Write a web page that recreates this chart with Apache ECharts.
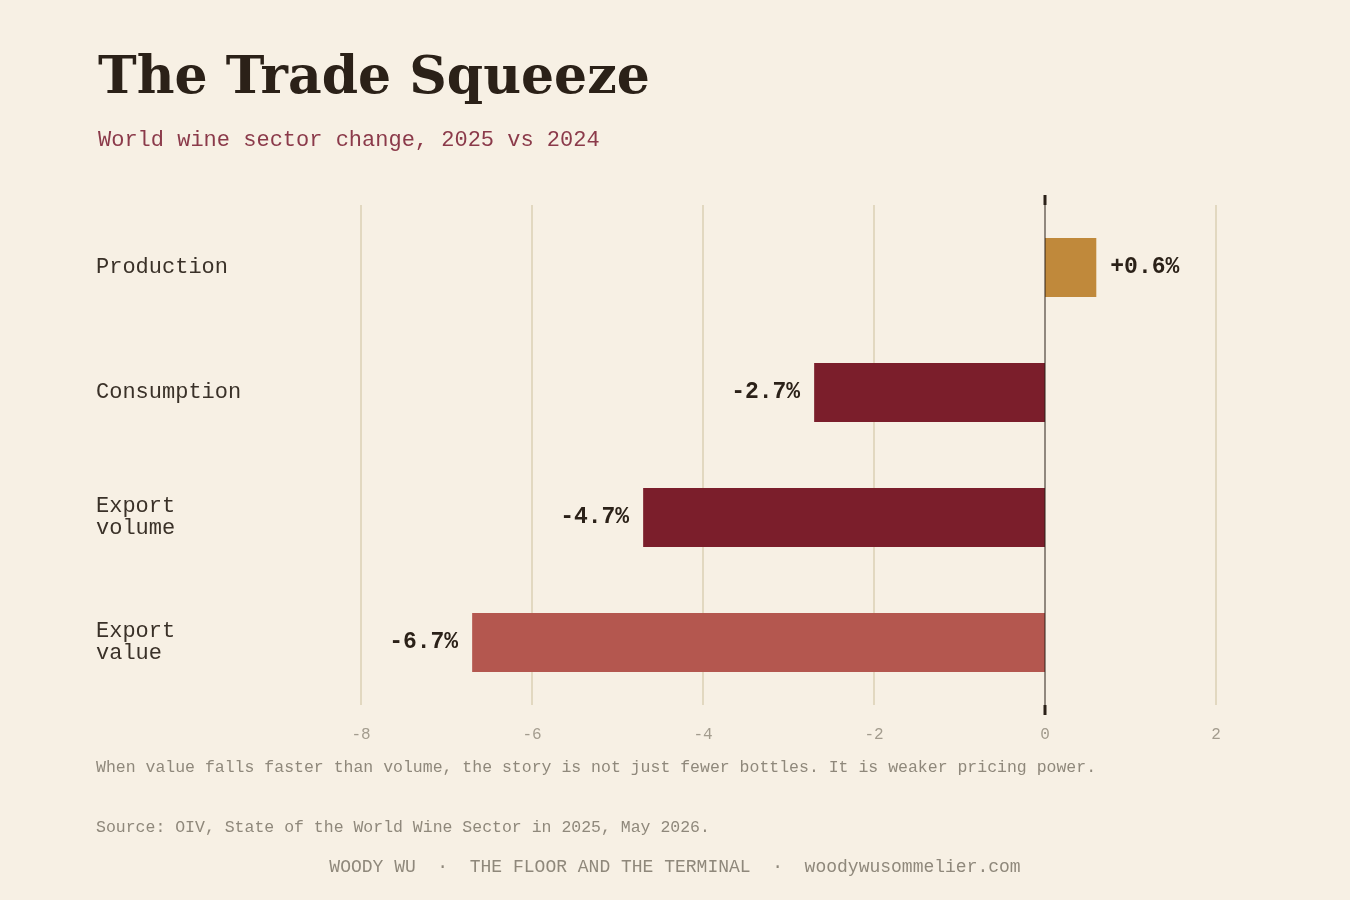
<!DOCTYPE html>
<html>
<head>
<meta charset="utf-8">
<script src="https://cdn.jsdelivr.net/npm/echarts@6/dist/echarts.min.js"></script>
<style>
html,body{margin:0;padding:0;background:#f7f0e4;}
#chart{width:1350px;height:900px;}
</style>
</head>
<body>
<div id="chart"></div>
<script>
var categories = ['Production', 'Consumption', 'Export\nvolume', 'Export\nvalue'];
var changes = [0.6, -2.7, -4.7, -6.7];
var barColors = ['#c0893b', '#7b1e2b', '#7b1e2b', '#b4574f'];
var xTicks = [-8, -6, -4, -2, 0, 2];

var mono = '"Liberation Mono", "DejaVu Sans Mono", monospace';
var myChart = echarts.init(document.getElementById('chart'));

var option = {
    backgroundColor: '#f7f0e4',
    title: {
        text: 'The Trade Squeeze',
        subtext: 'World wine sector change, 2025 vs 2024',
        left: 93,
        top: 48,
        itemGap: 24,
        textStyle: { fontFamily: '"DejaVu Serif", Georgia, serif', fontWeight: 'bold', fontSize: 52, color: '#2b2118' },
        subtextStyle: { fontFamily: mono, fontSize: 22, color: '#8b3a4a' }
    },
    grid: { left: 361, right: 134, top: 205, bottom: 195 },
    xAxis: {
        type: 'value',
        min: xTicks[0],
        max: xTicks[xTicks.length - 1],
        interval: 2,
        axisLine: { show: false },
        axisTick: { show: false },
        splitLine: { show: false },
        axisLabel: { fontFamily: mono, fontSize: 16, color: '#a39c8e', margin: 22 }
    },
    yAxis: {
        type: 'category',
        inverse: true,
        data: categories,
        axisLine: { show: false },
        axisTick: { show: false },
        axisLabel: {
            align: 'left',
            margin: 265,
            fontFamily: mono,
            fontSize: 22,
            lineHeight: 22,
            color: '#3a3128',
            verticalAlign: 'middle',
            padding: [0, 0, 14, 0]
        }
    },
    series: [{
        type: 'bar',
        barWidth: 59,
        z: 3,
        data: changes.map(function (v, i) {
            return {
                value: v,
                itemStyle: { color: barColors[i] },
                label: { position: v >= 0 ? 'right' : 'left' }
            };
        }),
        label: {
            show: true,
            distance: 14,
            fontFamily: mono,
            fontWeight: 'bold',
            fontSize: 23,
            color: '#2b2118',
            formatter: function (p) { return (p.value > 0 ? '+' : '') + p.value.toFixed(1) + '%'; }
        }
    }],
    graphic: []
};
myChart.setOption(option);

// grid lines and zero line extending slightly beyond the plot, placed via the axis scale
var lines = [];
xTicks.forEach(function (t) {
    var x = myChart.convertToPixel({ xAxisIndex: 0 }, t);
    if (t === 0) {
        lines.push({ type: 'line', z: 10, shape: { x1: x, y1: 195, x2: x, y2: 715 }, style: { stroke: '#2b2118', lineWidth: 1 } });
        lines.push({ type: 'rect', z: 10, shape: { x: x - 1.5, y: 195, width: 3, height: 10 }, style: { fill: '#2b2118' } });
        lines.push({ type: 'rect', z: 10, shape: { x: x - 1.5, y: 705, width: 3, height: 10 }, style: { fill: '#2b2118' } });
    } else {
        lines.push({ type: 'line', z: -1, shape: { x1: x, y1: 205, x2: x, y2: 705 }, style: { stroke: '#e2d8c0', lineWidth: 2 } });
    }
});
lines.push({ type: 'text', left: 96, top: 759, style: { text: 'When value falls faster than volume, the story is not just fewer bottles. It is weaker pricing power.', font: '16.5px ' + mono, fill: '#8f887b' } });
lines.push({ type: 'text', left: 96, top: 819, style: { text: 'Source: OIV, State of the World Wine Sector in 2025, May 2026.', font: '16.5px ' + mono, fill: '#8f887b' } });
lines.push({ type: 'text', left: 'center', top: 858, style: { text: 'WOODY WU  ·  THE FLOOR AND THE TERMINAL  ·  woodywusommelier.com', font: '18px ' + mono, fill: '#8f887b' } });
myChart.setOption({ graphic: lines });
</script>
</body>
</html>
